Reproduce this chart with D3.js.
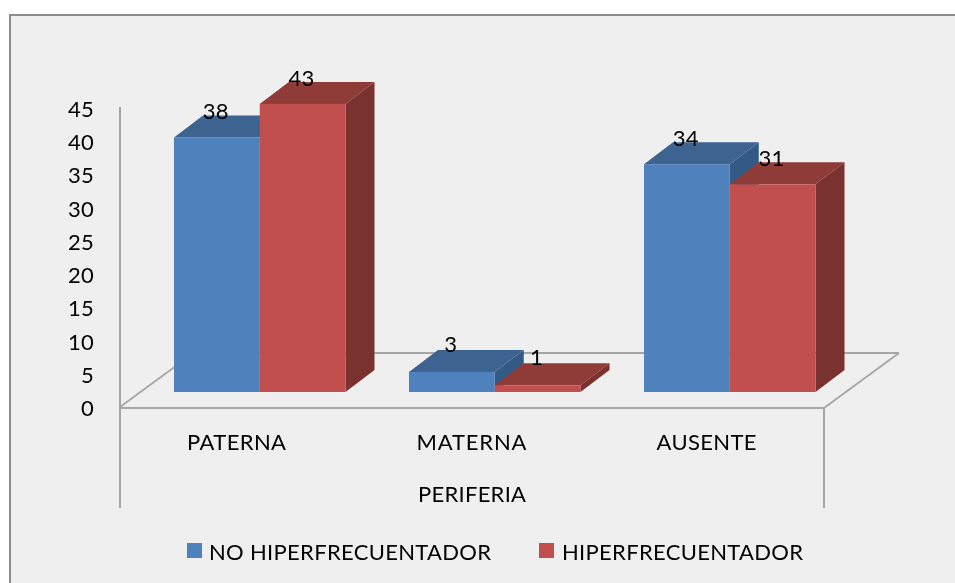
<!DOCTYPE html>
<html><head><meta charset="utf-8">
<script src="https://cdn.jsdelivr.net/npm/d3@7"></script>
<style>html,body{margin:0;padding:0;background:#fff}svg{display:block}text{font-family:Lato,"Open Sans",sans-serif;fill:#000}</style>
</head><body><svg id="c" width="955" height="583"></svg>
<script>
const categories=["PATERNA","MATERNA","AUSENTE"];
const seriesNames=["NO HIPERFRECUENTADOR","HIPERFRECUENTADOR"];
const noHiper=[38,3,34];
const hiper=[43,1,31];
const yTicks=[0,5,10,15,20,25,30,35,40,45];
const axisTitle="PERIFERIA";
const colors=[{front:"#4f81bd",top:"#3e6390",side:"#335a85"},{front:"#c0504d",top:"#8f3a38",side:"#7a302e"}];
const catWidths=[99,110,100];

const svg=d3.select("#c");
const defs=svg.append("defs");
defs.append("filter").attr("id","soft").attr("x",0).attr("y",0).attr("width",1).attr("height",1).append("feGaussianBlur").attr("stdDeviation",0.45);
const root=svg.append("g").attr("filter","url(#soft)");
root.append("rect").attr("width",955).attr("height",583).attr("fill","#fff");
root.append("rect").attr("x",9).attr("y",14).attr("width",946).attr("height",569).attr("fill","#efefef");
root.append("line").attr("x1",9.5).attr("y1",15).attr("x2",955).attr("y2",15).attr("stroke","#8c8c8c").attr("stroke-width",2);
root.append("line").attr("x1",10).attr("y1",14).attr("x2",10).attr("y2",583).attr("stroke","#8c8c8c").attr("stroke-width",2);

const y=d3.scaleLinear().domain([0,45]).range([392,90.5]);
const x=d3.scaleBand().domain(categories).range([138,843]);
const inner=d3.scaleBand().domain([0,1]).range([36,207.5]);
const dx=29,dy=-22;
const gline="#a6a6a6";
const line=(a,b,c,d,w=2)=>root.append("line").attr("x1",a).attr("y1",b).attr("x2",c).attr("y2",d).attr("stroke",gline).attr("stroke-width",w);
line(120,408,824,408,2.2);
line(120,407,195,352,1.8);
line(195,353,899,353,2);
line(899,353,824,408,1.8);
line(120,107,120,508);
line(824,408,824,508);

const yLab=d3.scaleLinear().domain([0,45]).range([416,117]);
root.append("g").selectAll("text").data(yTicks).join("text")
 .attr("x",94).attr("y",d=>yLab(d)).attr("text-anchor","end").attr("font-size",22).attr("letter-spacing",0.3).text(d=>d);

const series=[noHiper,hiper];
categories.forEach((cat,i)=>{
 series.forEach((vals,s)=>{
  const v=vals[i];
  const x0=x(cat)+inner(s), w=inner.bandwidth();
  const yb=y(0), yt=y(v), c=colors[s];
  const g=root.append("g");
  g.append("polygon").attr("points",[[x0+w,yt],[x0+w+dx,yt+dy],[x0+w+dx,yb+dy],[x0+w,yb]].join(" ")).attr("fill",c.side);
  g.append("polygon").attr("points",[[x0,yt],[x0+dx,yt+dy],[x0+w+dx,yt+dy],[x0+w,yt]].join(" ")).attr("fill",c.top);
  g.append("rect").attr("x",x0).attr("y",yt).attr("width",w).attr("height",yb-yt).attr("fill",c.front);
 });
});
categories.forEach((cat,i)=>{
 series.forEach((vals,s)=>{
  const v=vals[i];
  root.append("text").attr("x",x(cat)+inner(s)+inner.bandwidth()/2-1).attr("y",y(v)-(v<5?20:18)).attr("text-anchor","middle").attr("font-size",22).attr("letter-spacing",0.3).text(v);
 });
});
root.append("g").selectAll("text").data(categories).join("text")
 .attr("x",d=>x(d)+x.bandwidth()/2-19).attr("y",450).attr("text-anchor","middle").attr("font-size",22)
 .attr("textLength",(d,i)=>catWidths[i]).attr("lengthAdjust","spacing").text(d=>d);
root.append("text").attr("x",472).attr("y",502).attr("text-anchor","middle").attr("font-size",22).attr("textLength",108).attr("lengthAdjust","spacing").text(axisTitle);
const legX=[187,539], textX=[209,562], legW=[282,241];
seriesNames.forEach((n,i)=>{
 root.append("rect").attr("x",legX[i]).attr("y",543).attr("width",15).attr("height",15).attr("fill",colors[i].front);
 root.append("text").attr("x",textX[i]).attr("y",560).attr("font-size",22).attr("textLength",legW[i]).attr("lengthAdjust","spacing").text(n);
});
</script></body></html>
